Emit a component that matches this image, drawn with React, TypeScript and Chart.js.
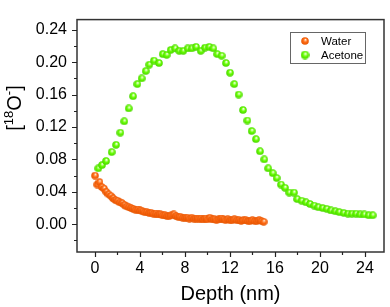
import React, { useEffect, useRef } from 'react';
import { Chart, registerables } from 'chart.js';
Chart.register(...registerables);

const seriesLabels = ['Water', 'Acetone'];

const waterDepth = [
  0.0, 0.2, 0.4, 0.6, 0.8, 1.0, 1.2, 1.4, 1.6, 1.8, 2.0, 2.2, 2.4, 2.6, 2.8, 3.0, 3.2, 3.4, 3.6, 3.8,
  4.0, 4.2, 4.4, 4.6, 4.8, 5.0, 5.2, 5.4, 5.6, 5.8, 6.0, 6.2, 6.4, 6.6, 6.8, 7.0, 7.2, 7.4, 7.6, 7.8,
  8.0, 8.2, 8.4, 8.6, 8.8, 9.0, 9.2, 9.4, 9.6, 9.8, 10.0, 10.2, 10.4, 10.6, 10.8, 11.0, 11.2, 11.4, 11.6, 11.8,
  12.0, 12.2, 12.4, 12.6, 12.8, 13.0, 13.2, 13.4, 13.6, 13.8, 14.0, 14.2, 14.4, 14.6, 14.8, 15.0,
];
const waterO18 = [
  0.060, 0.049, 0.052, 0.046, 0.044, 0.040, 0.037, 0.035, 0.032, 0.030, 0.029, 0.027, 0.026, 0.024, 0.022, 0.021, 0.020, 0.019, 0.018, 0.018,
  0.017, 0.016, 0.015, 0.015, 0.014, 0.014, 0.013, 0.013, 0.012, 0.012, 0.011, 0.011, 0.010, 0.010, 0.011, 0.012, 0.010, 0.009, 0.009, 0.008,
  0.008, 0.008, 0.007, 0.008, 0.007, 0.007, 0.007, 0.007, 0.006, 0.007, 0.006, 0.008, 0.006, 0.006, 0.005, 0.006, 0.007, 0.006, 0.005, 0.006,
  0.005, 0.005, 0.006, 0.005, 0.005, 0.004, 0.005, 0.005, 0.004, 0.004, 0.005, 0.004, 0.004, 0.005, 0.004, 0.003,
];

const acetoneDepth = [
  0.29, 0.62, 0.98, 1.48, 1.87, 2.25, 2.60, 3.00, 3.38, 3.76, 4.15, 4.51, 4.83, 5.24, 5.69, 6.02, 6.37, 6.73, 7.11, 7.49,
  7.85, 8.24, 8.60, 8.98, 9.40, 9.78, 10.16, 10.52, 10.87, 11.26, 11.64, 12.00, 12.38, 12.77, 13.16, 13.54, 13.93, 14.31, 14.67, 15.05,
  15.40, 15.80, 16.15, 16.53, 16.89, 17.27, 17.69, 17.98, 18.37, 18.76, 19.11, 19.49, 19.85, 20.24, 20.60, 20.98, 21.36, 21.72, 22.11, 22.49,
  22.84, 23.20, 23.58, 23.94, 24.33, 24.69,
];
const acetoneO18 = [
  0.069, 0.073, 0.078, 0.089, 0.098, 0.113, 0.127, 0.143, 0.158, 0.173, 0.180, 0.189, 0.197, 0.202, 0.199, 0.210, 0.209, 0.215, 0.217, 0.214,
  0.214, 0.217, 0.217, 0.219, 0.214, 0.218, 0.219, 0.217, 0.210, 0.208, 0.199, 0.187, 0.173, 0.160, 0.141, 0.128, 0.115, 0.105, 0.090, 0.080,
  0.069, 0.063, 0.057, 0.049, 0.045, 0.039, 0.039, 0.031, 0.029, 0.027, 0.025, 0.023, 0.021, 0.020, 0.019, 0.017, 0.016, 0.015, 0.014, 0.013,
  0.013, 0.013, 0.012, 0.012, 0.011, 0.011,
];

const xMajorTicks = [0, 4, 8, 12, 16, 20, 24];
const xMinorTicks = [2, 6, 10, 14, 18, 22];
const yMajorTicks = [0, 0.04, 0.08, 0.12, 0.16, 0.2, 0.24];
const yMinorTicks = [-0.02, 0.02, 0.06, 0.1, 0.14, 0.18, 0.22];
const xTitle = 'Depth (nm)';

const FONT = '"Liberation Sans", Arial, Helvetica, sans-serif';

function makeBall(d: number, base: string, light: string, dark: string): HTMLCanvasElement {
  const c = document.createElement('canvas');
  c.width = d;
  c.height = d;
  const ctx = c.getContext('2d')!;
  const r = d / 2;
  const g = ctx.createRadialGradient(r + 0.15 * r, r - 0.35 * r, 0, r, r, r);
  g.addColorStop(0, '#ffffff');
  g.addColorStop(0.22, light);
  g.addColorStop(0.5, base);
  g.addColorStop(1, dark);
  ctx.beginPath();
  ctx.arc(r, r, r - 0.2, 0, Math.PI * 2);
  ctx.fillStyle = g;
  ctx.fill();
  return c;
}

export default function App() {
  const ref = useRef<HTMLCanvasElement | null>(null);
  useEffect(() => {
    if (!ref.current) return;
    const orangeBall = makeBall(8, '#ff6a14', '#ffb27a', '#e45400');
    const greenBall = makeBall(8, '#66ff00', '#c8ff9a', '#48d000');
    const orangeLegend = makeBall(8, '#ff6a14', '#ffb27a', '#e45400');
    const greenLegend = makeBall(9, '#66ff00', '#c8ff9a', '#48d000');

    const framePlugin = {
      id: 'frameAndExtras',
      afterDraw(chart: any) {
        const { ctx, chartArea, scales } = chart;
        const xs = scales.x;
        const ys = scales.y;
        const { left, right, top, bottom } = chartArea;
        ctx.save();
        ctx.strokeStyle = '#333333';
        ctx.lineWidth = 1.5;
        ctx.strokeRect(left, top, right - left, bottom - top);
        ctx.strokeStyle = '#222222';
        ctx.lineWidth = 1.2;
        ctx.beginPath();
        for (const v of yMajorTicks) {
          const p = Math.round(ys.getPixelForValue(v)) + 0.5;
          ctx.moveTo(left, p);
          ctx.lineTo(left - 5, p);
        }
        for (const v of yMinorTicks) {
          const p = Math.round(ys.getPixelForValue(v)) + 0.5;
          ctx.moveTo(left, p);
          ctx.lineTo(left - 3, p);
        }
        for (const v of xMajorTicks) {
          const p = Math.round(xs.getPixelForValue(v)) + 0.5;
          ctx.moveTo(p, bottom);
          ctx.lineTo(p, bottom + 5);
        }
        for (const v of xMinorTicks) {
          const p = Math.round(xs.getPixelForValue(v)) + 0.5;
          ctx.moveTo(p, bottom);
          ctx.lineTo(p, bottom + 3);
        }
        ctx.stroke();

        ctx.fillStyle = '#000';
        ctx.font = `20px ${FONT}`;
        ctx.textAlign = 'center';
        ctx.textBaseline = 'alphabetic';
        ctx.fillText(xTitle, (left + right) / 2, 300);

        ctx.save();
        ctx.translate(21, 108);
        ctx.rotate(-Math.PI / 2);
        const parts: [string, number, number][] = [
          ['[', 20, 0],
          ['18', 13, -8],
          ['O', 20, 0],
          ['-', 13, -8],
          [']', 20, 0],
        ];
        let total = 0;
        for (const [t, s] of parts) {
          ctx.font = `${s}px ${FONT}`;
          total += ctx.measureText(t).width;
        }
        let cx = -total / 2;
        ctx.textAlign = 'left';
        for (const [t, s, dy] of parts) {
          ctx.font = `${s}px ${FONT}`;
          ctx.fillText(t, cx, dy);
          cx += ctx.measureText(t).width;
        }
        ctx.restore();

        ctx.strokeStyle = '#666666';
        ctx.lineWidth = 1;
        ctx.strokeRect(290.5, 32.5, 75, 31);
        const balls = [orangeLegend, greenLegend];
        const rows = [41, 55];
        ctx.font = `11.5px ${FONT}`;
        ctx.textAlign = 'left';
        ctx.textBaseline = 'middle';
        ctx.fillStyle = '#000';
        seriesLabels.forEach((lab, i) => {
          const b = balls[i];
          ctx.drawImage(b, 305 - b.width / 2, rows[i] - b.height / 2);
          ctx.fillText(lab, 321, rows[i] + 0.5);
        });
        ctx.restore();
      },
    };

    const chart = new Chart(ref.current, {
      type: 'scatter',
      data: {
        datasets: [
          {
            label: seriesLabels[0],
            data: waterDepth.map((x, i) => ({ x, y: waterO18[i] })),
            pointStyle: orangeBall as any,
            pointRadius: 4,
            showLine: false,
          },
          {
            label: seriesLabels[1],
            data: acetoneDepth.map((x, i) => ({ x, y: acetoneO18[i] })),
            pointStyle: greenBall as any,
            pointRadius: 4,
            showLine: false,
          },
        ],
      },
      options: {
        responsive: true,
        maintainAspectRatio: false,
        animation: false,
        events: [],
        layout: { padding: { top: 1, right: 6, left: 0, bottom: 0 } },
        plugins: { legend: { display: false }, tooltip: { enabled: false } },
        scales: {
          x: {
            type: 'linear',
            min: -1.6,
            max: 25.7,
            border: { display: false },
            grid: { display: false, drawTicks: false },
            afterBuildTicks: (s: any) => {
              s.ticks = xMajorTicks.map((v) => ({ value: v }));
            },
            afterFit: (s: any) => {
              s.height = 55;
            },
            ticks: {
              autoSkip: false,
              maxRotation: 0,
              padding: 7,
              color: '#000',
              font: { family: FONT, size: 16 },
              callback: (v: any) => String(v),
            },
          },
          y: {
            type: 'linear',
            min: -0.0343,
            max: 0.2526,
            border: { display: false },
            grid: { display: false, drawTicks: false },
            afterBuildTicks: (s: any) => {
              s.ticks = yMajorTicks.map((v) => ({ value: v }));
            },
            afterFit: (s: any) => {
              s.width = 77;
            },
            ticks: {
              autoSkip: false,
              padding: 10,
              color: '#000',
              font: { family: FONT, size: 16 },
              callback: (v: any) => Number(v).toFixed(2),
            },
          },
        },
      },
      plugins: [framePlugin],
    });
    return () => chart.destroy();
  }, []);

  return (
    <div style={{ position: 'absolute', left: 0, top: 0, width: 390, height: 307, background: '#fff' }}>
      <canvas ref={ref} />
    </div>
  );
}
